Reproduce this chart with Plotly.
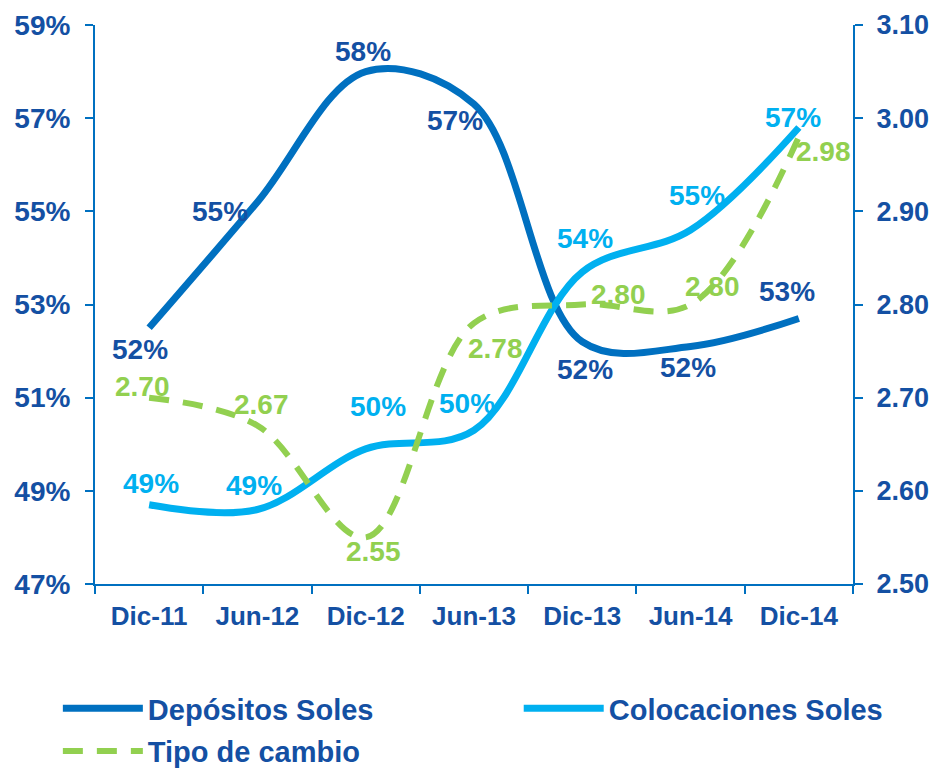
import plotly.graph_objects as go

# datos
periodos = ['Dic-11', 'Jun-12', 'Dic-12', 'Jun-13', 'Dic-13', 'Jun-14', 'Dic-14']
depositos = [52.5, 55.2, 58.0, 57.3, 52.2, 52.1, 52.7]
colocaciones = [48.7, 48.6, 49.9, 50.3, 53.7, 54.6, 56.8]
tipo_cambio = [2.70, 2.67, 2.55, 2.78, 2.80, 2.80, 2.98]

AZUL = '#0070C0'
CELESTE = '#00B0F0'
VERDE = '#92D050'
TEXTO = '#1450A3'
FUENTE = 'Liberation Sans, Arial, sans-serif'

# desplazamiento de etiquetas (px)
off_dep = [(-9, -22), (-37, -9), (-3, 20), (-19, -16), (3, -28), (-3, -21), (-12, 27)]
off_col = [(2, 21), (-3, 24), (12, 42), (-7, 27), (3, 33), (6, 34), (-6, 10)]
off_tc = [(-7, 11), (4, 21), (8, -14), (21, -25), (36, 10), (22, 18), (25, -15)]

fig = go.Figure()

fig.add_trace(go.Scatter(
    x=periodos, y=depositos, name='Depósitos Soles', legendgroup='dep',
    mode='lines', line=dict(color=AZUL, width=7, shape='spline', smoothing=1),
    legend='legend',
))
fig.add_trace(go.Scatter(
    x=periodos, y=colocaciones, name='Colocaciones Soles', legendgroup='col',
    mode='lines', line=dict(color=CELESTE, width=7, shape='spline', smoothing=1),
    legend='legend2',
))
fig.add_trace(go.Scatter(
    x=periodos, y=tipo_cambio, name='Tipo de cambio', yaxis='y2', legendgroup='tc',
    mode='lines', line=dict(color=VERDE, width=6, shape='spline', smoothing=1, dash='20px,14px'),
    legend='legend',
))

anots = []
for serie, offs, color, ref, fmt in [
    (depositos, off_dep, TEXTO, 'y', lambda v: f'{v:.0f}%'),
    (colocaciones, off_col, CELESTE, 'y', lambda v: f'{v:.0f}%'),
    (tipo_cambio, off_tc, VERDE, 'y2', lambda v: f'{v:.2f}'),
]:
    for p, v, (dx, dy) in zip(periodos, serie, offs):
        anots.append(dict(
            x=p, y=v, xref='x', yref=ref, text=fmt(v), showarrow=False,
            xshift=dx, yshift=dy,
            font=dict(family=FUENTE, size=28, color=color, weight='bold'),
        ))

eje = dict(showline=True, linecolor=AZUL, linewidth=2, ticks='outside', automargin=False,
           ticklen=8, tickwidth=2, tickcolor=AZUL, showgrid=False, zeroline=False)

# la página tiene 8px de margen por lado, así no aparecen barras de desplazamiento
fig.update_layout(
    width=921, height=762,
    margin=dict(l=87, r=76, t=17, b=186, autoexpand=False),
    plot_bgcolor='white', paper_bgcolor='white',
    font=dict(family=FUENTE, color=TEXTO),
    annotations=anots,
    xaxis=dict(type='category', range=[-0.5, 6.5], tickson='boundaries',
               ticklabelstandoff=8,
               tickfont=dict(size=26, color=TEXTO, weight='bold'), **eje),
    yaxis=dict(range=[47, 59], tick0=47, dtick=2, ticksuffix='%',
               ticklabelstandoff=9,
               tickfont=dict(size=28, color=TEXTO, weight='bold'), **eje),
    yaxis2=dict(range=[2.5, 3.1], dtick=0.1, tickformat='.2f', overlaying='y', side='right',
                ticklabelstandoff=8,
                tickfont=dict(size=27, color=TEXTO, weight='bold'), **eje),
    legend=dict(orientation='v', x=-0.049, xanchor='left', y=-0.177, yanchor='top',
                itemwidth=80, tracegroupgap=2, bgcolor='rgba(0,0,0,0)',
                font=dict(size=29, color=TEXTO, weight='bold')),
    legend2=dict(orientation='v', x=0.559, xanchor='left', y=-0.177, yanchor='top',
                 itemwidth=80, bgcolor='rgba(0,0,0,0)',
                 font=dict(size=29, color=TEXTO, weight='bold')),
)

fig.write_html('out.html')
